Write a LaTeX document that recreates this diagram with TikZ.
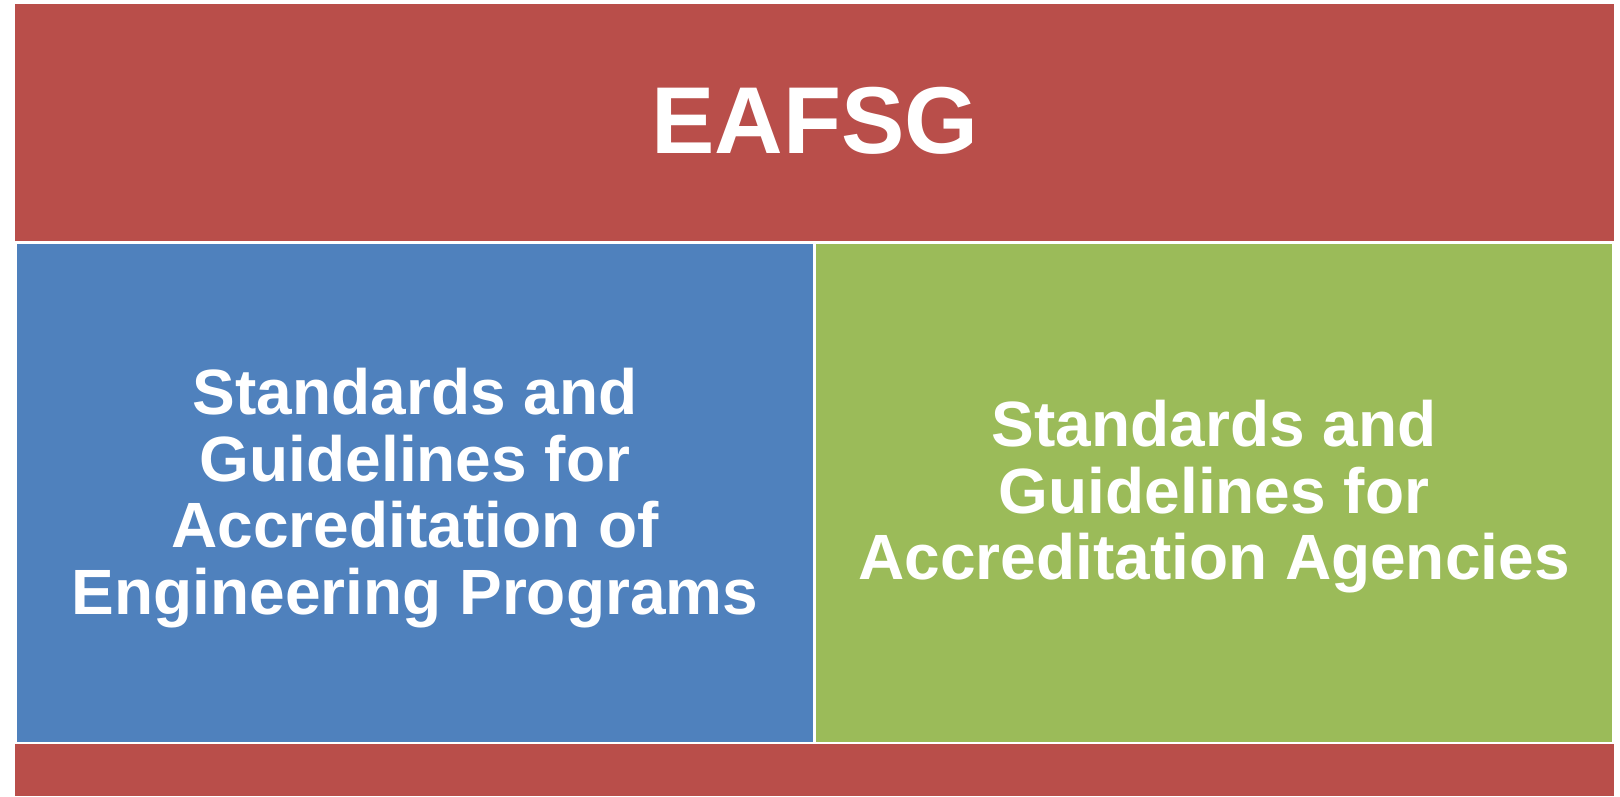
\documentclass[tikz,border=0pt]{standalone}
\usepackage{fontspec}
\setmainfont{Liberation Sans}
\definecolor{eared}{HTML}{B94E4A}
\definecolor{eablue}{HTML}{4F81BD}
\definecolor{eagreen}{HTML}{9BBB59}
\begin{document}
\begin{tikzpicture}[x=1pt,y=-1pt,
  panel/.style={draw=none,inner sep=0pt},
  bodytxt/.style={text=white,font=\fontsize{64}{66.5}\selectfont\bfseries,align=center}]
\useasboundingbox (0,0) rectangle (1620,796);
\fill[white] (0,0) rectangle (1620,796);
\fill[eared] (15,4) rectangle (1614,241);
\fill[eared] (15,744) rectangle (1614,796);
\fill[eablue] (17,244) rectangle (813,742);
\fill[eagreen] (816,244) rectangle (1612,742);
\node[panel,text=white,font=\fontsize{95}{100}\selectfont\bfseries] (title) at (815,121) {EAFSG};
\node[panel,bodytxt] (left) at (415,498) {Standards and\\Guidelines for\\Accreditation of\\Engineering Programs};
\node[panel,bodytxt] (right) at (1214,497) {Standards and\\Guidelines for\\Accreditation Agencies};
\end{tikzpicture}
\end{document}
